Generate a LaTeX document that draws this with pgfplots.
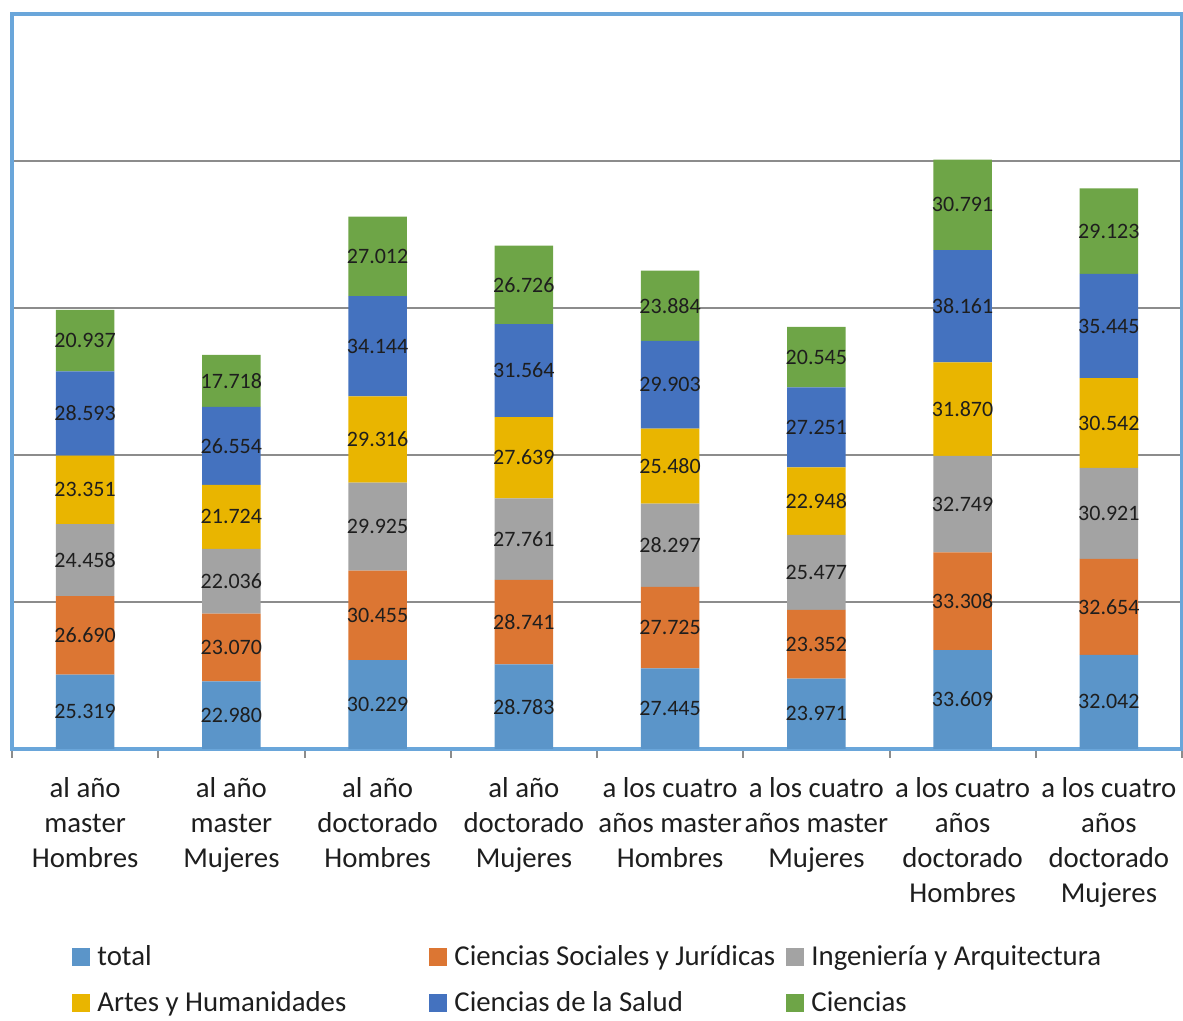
\documentclass[border=0pt]{standalone}
\usepackage{pgfplots}
\usepackage{pgfplotstable}
\pgfplotsset{compat=1.18}
\usepackage{fontspec}
\setmainfont{Carlito}
\definecolor{cTotal}{HTML}{5B95C9}
\definecolor{cSoc}{HTML}{DC7633}
\definecolor{cIng}{HTML}{A3A3A3}
\definecolor{cArt}{HTML}{E9B500}
\definecolor{cSal}{HTML}{4472BF}
\definecolor{cCie}{HTML}{6EA547}
\definecolor{frameblue}{HTML}{6AA6DA}
\definecolor{gridgray}{HTML}{8C8C8C}
\definecolor{txt}{HTML}{1E1E1E}

\pgfplotstableread{
x total soc ing art sal cie m1 m2 m3 m4 m5 m6
0 25.319 26.690 24.458 23.351 28.593 20.937 12.660 38.664 64.238 88.143 114.115 138.880
1 22.980 23.070 22.036 21.724 26.554 17.718 11.490 34.515 57.068 78.948 103.087 125.223
2 30.229 30.455 29.925 29.316 34.144 27.012 15.115 45.457 75.647 105.267 136.997 167.575
3 28.783 28.741 27.761 27.639 31.564 26.726 14.392 43.154 71.405 99.105 128.706 157.851
4 27.445 27.725 28.297 25.480 29.903 23.884 13.723 41.308 69.319 96.207 123.899 150.792
5 23.971 23.352 25.477 22.948 27.251 20.545 11.986 35.647 60.062 84.274 109.374 133.272
6 33.609 33.308 32.749 31.870 38.161 30.791 16.805 50.263 83.292 115.601 150.617 185.093
7 32.042 32.654 30.921 30.542 35.445 29.123 16.021 48.369 80.157 110.888 143.882 176.166
}\data

\pgfplotsset{
  common/.style={
    scale only axis, width=585pt, height=367.5pt,
    xmin=-0.5, xmax=7.5, ymin=0, ymax=250, enlargelimits=false,
  },
  lab/.style={draw=none, mark=none, nodes near coords, point meta=explicit,
    every node near coord/.style={anchor=center, inner sep=0pt, text=txt,
      font=\fontsize{11}{13}\selectfont},
    nodes near coords={\pgfmathprintnumber[fixed, fixed zerofill, precision=3, assume math mode=true]{\pgfplotspointmeta}},
  },
}

\begin{document}
\begin{tikzpicture}
\begin{axis}[common,
  ybar stacked, bar width=0.4,
  axis line style={frameblue, line width=2.2pt},
  xtick={0,...,7},
  xticklabels={{al año\\master\\Hombres},{al año\\master\\Mujeres},{al año\\doctorado\\Hombres},{al año\\doctorado\\Mujeres},{a los cuatro\\años master\\Hombres},{a los cuatro\\años master\\Mujeres},{a los cuatro\\años\\doctorado\\Hombres},{a los cuatro\\años\\doctorado\\Mujeres}},
  xticklabel style={align=center, font=\fontsize{14.4}{17.5}\selectfont, text=txt, anchor=north, inner sep=0pt, yshift=-10pt},
  major x tick style={draw=none},
  minor xtick={-0.5,0.5,...,7.5},
  minor x tick style={gridgray, line width=1pt},
  minor tick length=4.5pt,
  tick align=outside,
  xtick pos=bottom,
  ytick={50,100,150,200}, yticklabels={},
  major y tick style={draw=none},
  ymajorgrids, y grid style={gridgray, line width=1.2pt},
  legend columns=3,
  legend style={at={(axis description cs:0,0)}, anchor=north west, xshift=30pt, yshift=-98pt,
    draw=none, fill=none, inner sep=0pt, row sep=11.5pt, column sep=0pt,
    font=\fontsize{14.4}{17.5}\selectfont, text=txt,
    nodes={inner sep=0pt},
    /tikz/every odd column/.append style={column sep=3.5pt}},
  legend cell align=left,
  legend image code/.code={\fill[#1] (0pt,-4.5pt) rectangle (9pt,4.5pt);},
]
\addplot[fill=cTotal, draw=none] table[x=x, y=total] {\data};
\addlegendentry{\makebox[166pt][l]{total}}
\addplot[fill=cSoc, draw=none] table[x=x, y=soc] {\data};
\addlegendentry{\makebox[166pt][l]{Ciencias Sociales y Jurídicas}}
\addplot[fill=cIng, draw=none] table[x=x, y=ing] {\data};
\addlegendentry{\makebox[166pt][l]{Ingeniería y Arquitectura}}
\addplot[fill=cArt, draw=none] table[x=x, y=art] {\data};
\addlegendentry{\makebox[166pt][l]{Artes y Humanidades}}
\addplot[fill=cSal, draw=none] table[x=x, y=sal] {\data};
\addlegendentry{\makebox[166pt][l]{Ciencias de la Salud}}
\addplot[fill=cCie, draw=none] table[x=x, y=cie] {\data};
\addlegendentry{\makebox[166pt][l]{Ciencias}}
\coordinate (sw) at (rel axis cs:0,0);
\coordinate (ne) at (rel axis cs:1,1);
\end{axis}
\begin{axis}[common, hide axis]
\addplot[lab] table[x=x, y=m1, meta=total] {\data};
\addplot[lab] table[x=x, y=m2, meta=soc] {\data};
\addplot[lab] table[x=x, y=m3, meta=ing] {\data};
\addplot[lab] table[x=x, y=m4, meta=art] {\data};
\addplot[lab] table[x=x, y=m5, meta=sal] {\data};
\addplot[lab] table[x=x, y=m6, meta=cie] {\data};
\end{axis}
\pgfresetboundingbox
\path[use as bounding box] ([shift={(-6pt,-136pt)}]sw) rectangle ([shift={(0.5pt,7pt)}]ne);
\end{tikzpicture}
\end{document}
